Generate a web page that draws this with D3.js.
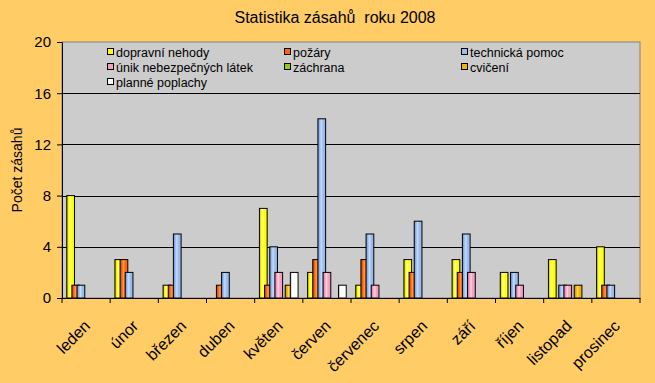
<!DOCTYPE html>
<html><head><meta charset="utf-8">
<script src="https://cdn.jsdelivr.net/npm/d3@7"></script>
<style>html,body{margin:0;padding:0;background:#FFCC66;}svg{display:block;font-family:"Liberation Sans",Arial,sans-serif;}</style>
</head><body>
<script>
const months = ["leden","únor","březen","duben","květen","červen","červenec","srpen","září","říjen","listopad","prosinec"];
const seriesNames = ["dopravní nehody","požáry","technická pomoc","únik nebezpečných látek","záchrana","cvičení","planné poplachy"];
const dopravniNehody = [8,3,1,0,7,2,1,3,3,2,3,4];
const pozary = [1,3,1,1,1,3,3,2,2,0,0,1];
const technickaPomoc = [1,2,5,2,4,14,5,6,5,2,1,1];
const unikLatek = [0,0,0,0,2,2,1,0,2,1,1,0];
const zachrana = [0,0,0,0,0,0,0,0,0,0,0,0];
const cviceni = [0,0,0,0,1,0,0,0,0,0,1,0];
const planePoplachy = [0,0,0,0,2,1,0,0,0,0,0,0];
const yTicks = [0,4,8,12,16,20];
const title = "Statistika zásahů  roku 2008";
const yTitle = "Počet zásahů";

const seriesValues = [dopravniNehody,pozary,technickaPomoc,unikLatek,zachrana,cviceni,planePoplachy];
const colors = [
  {base:"#FFFF00", dark:"#B8B800", light:"#FFFF99"},
  {base:"#FF6600", dark:"#C04000", light:"#FF9955"},
  {base:"#99BBEE", dark:"#6F8FC8", light:"#C8DCFA"},
  {base:"#F5A0C0", dark:"#C87890", light:"#FFD0E0"},
  {base:"#99CC00", dark:"#6E9400", light:"#C8E860"},
  {base:"#F0B400", dark:"#B88400", light:"#FFD860"},
  {base:"#FFFFFF", dark:"#B0B0B0", light:"#FFFFFF"}
];

const W = 655, H = 383;
const plot = {l:62, r:640, t:42, b:298};
const svg = d3.select("body").append("svg").attr("width",W).attr("height",H);
const defs = svg.append("defs");
colors.forEach((c,i)=>{
  const g = defs.append("linearGradient").attr("id","g"+i).attr("x1","0").attr("x2","1").attr("y1","0").attr("y2","0");
  g.append("stop").attr("offset","0").attr("stop-color",c.dark);
  g.append("stop").attr("offset","0.25").attr("stop-color",c.base);
  g.append("stop").attr("offset","0.45").attr("stop-color",c.light);
  g.append("stop").attr("offset","0.65").attr("stop-color",c.base);
  g.append("stop").attr("offset","1").attr("stop-color",c.base);
});

svg.append("rect").attr("width",W).attr("height",H).attr("fill","#FFCC66");
svg.append("rect").attr("x",plot.l).attr("y",plot.t).attr("width",plot.r-plot.l).attr("height",plot.b-plot.t)
  .attr("fill","#CCCCCC").attr("stroke","#808080").attr("stroke-width",1);

const x = d3.scaleBand().domain(months).range([plot.l,plot.r]).padding(0);
const y = d3.scaleLinear().domain([0,20]).range([plot.b,plot.t]);

// gridlines
svg.append("g").selectAll("line").data(yTicks.filter(t=>t>0&&t<20)).join("line")
  .attr("x1",plot.l).attr("x2",plot.r).attr("y1",d=>Math.round(y(d))+0.5).attr("y2",d=>Math.round(y(d))+0.5)
  .attr("stroke","#000").attr("stroke-width",1);

// bars
const cw = x.bandwidth();
const barW = cw*0.16, stride = cw*0.107;
const groupW = stride*6 + barW;
const sub = d3.scaleBand().domain(d3.range(seriesNames.length)).range([0, stride*7]).padding(0);
seriesValues.forEach((vals,si)=>{
  svg.append("g").selectAll("rect").data(vals.map((v,i)=>({m:months[i],v}))).join("rect")
    .filter(d=>d.v>0)
    .attr("x",d=>x(d.m)+(cw-groupW)/2+sub(si))
    .attr("width",barW)
    .attr("y",d=>y(d.v))
    .attr("height",d=>y(0)-y(d.v))
    .attr("fill","url(#g"+si+")").attr("stroke","#000").attr("stroke-width",1);
});

// axes
const yAxis = d3.axisLeft(y).tickValues(yTicks).tickSize(5).tickPadding(6);
const ya = svg.append("g").attr("transform",`translate(${plot.l},0)`).call(yAxis);
ya.select(".domain").attr("stroke","#000");
ya.selectAll("text").attr("font-size",15).attr("fill","#000").attr("font-family","Liberation Sans, Arial, sans-serif");
const xAxis = d3.axisBottom(x).tickSize(0).tickFormat("");
const xa = svg.append("g").attr("transform",`translate(0,${plot.b})`).call(xAxis);
xa.select(".domain").attr("stroke","#000");
svg.append("g").selectAll("line").data(d3.range(months.length+1)).join("line")
  .attr("x1",i=>plot.l+i*cw).attr("x2",i=>plot.l+i*cw).attr("y1",plot.b).attr("y2",plot.b+5).attr("stroke","#000");
svg.append("g").selectAll("text").data(months).join("text")
  .attr("transform",d=>`translate(${x(d)+cw/2+5},${plot.b+29}) rotate(-45)`)
  .attr("text-anchor","end").attr("font-size",16).attr("fill","#000").text(d=>d);

// titles
svg.append("text").attr("x",335).attr("y",23).attr("text-anchor","middle").attr("font-size",16)
  .style("white-space","pre").attr("fill","#000").text(title);
svg.append("text").attr("transform",`translate(22,170) rotate(-90)`).attr("text-anchor","middle")
  .attr("font-size",14).attr("fill","#000").text(yTitle);

// legend
const legCols = [107, 284, 461];
const legRows = [52, 67, 82];
const lg = svg.append("g");
seriesNames.forEach((n,i)=>{
  const cx = legCols[i%3], cy = legRows[Math.floor(i/3)];
  lg.append("rect").attr("x",cx+0.5).attr("y",cy-3.5).attr("width",6).attr("height",6)
    .attr("fill",colors[i].base).attr("stroke","#000").attr("stroke-width",1);
  lg.append("text").attr("x",cx+9).attr("y",cy+4.5).attr("font-size",12.5).attr("fill","#000").text(n);
});
</script>
</body></html>
